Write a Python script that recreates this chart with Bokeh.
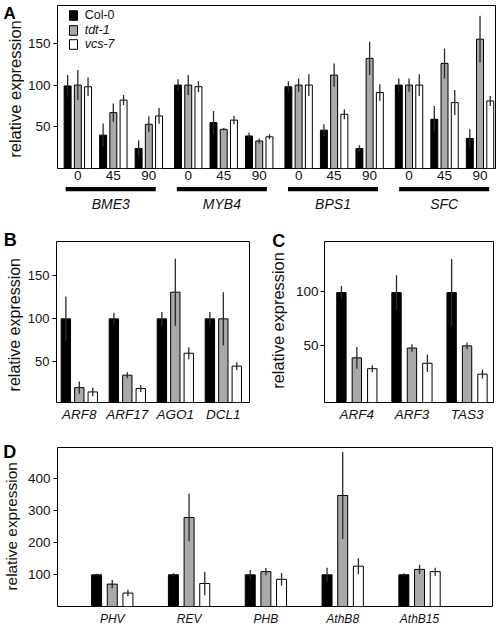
import numpy as np
from bokeh.plotting import figure
from bokeh.models import Range1d, FixedTicker, Legend, LegendItem
from bokeh.layouts import column, row
from bokeh.embed import file_html
from bokeh.resources import INLINE
from bokeh.core.properties import value

FONT = "Liberation Sans"
strains = ["Col-0", "tdt-1", "vcs-7"]
colors = ["#000000", "#a9a9a9", "#ffffff"]
ylabel_text = "relative expression"

# ---------------- Panel A data ----------------
a_genes = ["BME3", "MYB4", "BPS1", "SFC"]
a_times = ["0", "45", "90"]
a_col0 = [99, 40, 24, 100, 55, 39, 98, 46, 24, 100, 59, 36]
a_col0_err = [13, 14, 10, 7, 14, 4, 6.5, 7, 4, 8, 16, 11]
a_tdt1 = [100, 67, 53, 100, 47, 33, 100, 112, 132, 100, 126, 155]
a_tdt1_err = [18, 11, 9.5, 12, 1.5, 3, 8, 14, 20, 8, 18, 28]
a_vcs7 = [98, 82, 63, 98, 58, 38, 100, 65, 91, 100, 79, 81]
a_vcs7_err = [11, 6, 9.5, 6.5, 5, 3, 13, 6, 10, 13, 15, 6]
a_yticks = [50, 100, 150]

# ---------------- Panel B data ----------------
b_genes = ["ARF8", "ARF17", "AGO1", "DCL1"]
b_col0 = [100, 100, 100, 100]
b_col0_err = [26, 7, 8, 8]
b_tdt1 = [20, 34.5, 131, 100]
b_tdt1_err = [7, 3.5, 39, 31]
b_vcs7 = [15, 19, 60, 45]
b_vcs7_err = [5, 4, 7, 4.5]
b_yticks = [50, 100, 150]

# ---------------- Panel C data ----------------
c_genes = ["ARF4", "ARF3", "TAS3"]
c_col0 = [99, 99, 99]
c_col0_err = [6, 16, 31]
c_tdt1 = [39, 48, 50]
c_tdt1_err = [10, 3.5, 3.2]
c_vcs7 = [29, 34, 24]
c_vcs7_err = [3.2, 8, 4]
c_yticks = [50, 100]

# ---------------- Panel D data ----------------
d_genes = ["PHV", "REV", "PHB", "AthB8", "AthB15"]
d_col0 = [99, 99, 99, 99, 99]
d_col0_err = [3, 5, 15, 22, 5]
d_tdt1 = [70, 278, 109, 347, 116]
d_tdt1_err = [13, 75, 11, 136, 14.5]
d_vcs7 = [42, 72, 85, 126, 109]
d_vcs7_err = [10, 37, 20, 25, 12.5]
d_yticks = [100, 200, 300, 400]


def make_fig(width, height, xr, yr, left, right, top, bottom):
    p = figure(width=width, height=height, x_range=xr, y_range=yr,
               output_backend="svg", toolbar_location=None,
               min_border_left=left, min_border_right=right,
               min_border_top=top, min_border_bottom=bottom)
    p.frame_align = False
    p.outline_line_color = "black"
    p.outline_line_width = 1
    p.grid.visible = False
    p.background_fill_color = "white"
    p.border_fill_color = "white"
    return p


def style_axes(p, yticks, ytick_size, ystand, xtick_size, xstand, xticks, xlabels, x_italic=True):
    ax = p.yaxis[0]
    ax.ticker = FixedTicker(ticks=yticks)
    ax.major_tick_out = 4
    ax.major_tick_in = 0
    ax.minor_tick_out = 0
    ax.minor_tick_in = 0
    ax.major_tick_line_color = "black"
    ax.axis_line_color = None
    ax.major_label_text_font = FONT
    ax.major_label_text_font_size = ytick_size
    ax.major_label_text_color = "#111111"
    ax.major_label_standoff = ystand
    bx = p.xaxis[0]
    bx.ticker = FixedTicker(ticks=list(xticks))
    bx.major_label_overrides = {float(k): v for k, v in zip(xticks, xlabels)}
    bx.major_tick_out = 0
    bx.major_tick_in = 0
    bx.minor_tick_out = 0
    bx.minor_tick_in = 0
    bx.axis_line_color = None
    bx.major_label_text_font = FONT
    bx.major_label_text_font_size = xtick_size
    bx.major_label_text_font_style = "italic" if x_italic else "normal"
    bx.major_label_text_color = "#111111"
    bx.major_label_standoff = xstand


def draw_bars(p, xs, series, errs, width, offset, bottom):
    rs = []
    xs = np.asarray(xs, dtype=float)
    for i, (vals, ee) in enumerate(zip(series, errs)):
        xi = xs + (i - 1) * offset
        v = np.asarray(vals, dtype=float)
        e = np.asarray(ee, dtype=float)
        r = p.vbar(x=xi, top=v, bottom=bottom, width=width,
                   fill_color=colors[i], line_color="black", line_width=1)
        rs.append(r)
        p.segment(x0=xi, y0=v - e, x1=xi, y1=v + e,
                  line_color="#2a2a2a", line_width=1.3)
    return rs


def strip(width, height, letter, lx, ly, lsize, yx, yy, ysize):
    """Narrow figure on the left of a panel holding the panel letter and y label."""
    s = figure(width=width, height=height, x_range=Range1d(0, width),
               y_range=Range1d(height, 0), output_backend="svg",
               toolbar_location=None, min_border=0,
               x_axis_location=None, y_axis_location=None)
    s.frame_align = False
    s.outline_line_color = None
    s.grid.visible = False
    s.text(x=[lx], y=[ly], text=[letter], text_align="left", text_baseline="top",
           text_font=value(FONT), text_font_style="bold", text_font_size=lsize,
           text_color="black")
    s.text(x=[yx], y=[yy], text=[ylabel_text], angle=np.pi / 2, text_align="center",
           text_baseline="middle", text_font=value(FONT), text_font_size=ysize,
           text_color="#111111")
    return s


# ================= Panel A =================
a_gap = 0.11
a_x = [g * 3 + t + a_gap * g for g in range(len(a_genes)) for t in range(len(a_times))]
a_xlabels = [t for g in a_genes for t in a_times]
a_gene_centers = [np.mean(a_x[g * 3:(g + 1) * 3]) for g in range(len(a_genes))]

pA = make_fig(474, 186, Range1d(-0.573, 11.766), Range1d(0, 195.4), 30, 3, 5, 18)
rsA = draw_bars(pA, a_x, [a_col0, a_tdt1, a_vcs7], [a_col0_err, a_tdt1_err, a_vcs7_err],
                0.196, 0.288, 0)
style_axes(pA, a_yticks, "13.5px", 3, "13.5px", 2, a_x, a_xlabels, x_italic=False)

leg_kw = dict(padding=0, margin=0, spacing=0, label_standoff=7, glyph_width=10,
              glyph_height=12, label_height=14, border_line_color=None,
              background_fill_alpha=0, label_text_font=FONT, label_text_font_size="12.5px",
              label_text_color="#111111")
leg1 = Legend(items=[LegendItem(label=strains[0], renderers=[rsA[0]])],
              location=(10.7, 146), label_text_font_style="normal", **leg_kw)
leg2 = Legend(items=[LegendItem(label=strains[1], renderers=[rsA[1]]),
                     LegendItem(label=strains[2], renderers=[rsA[2]])],
              location=(10.7, 117), label_text_font_style="italic", **leg_kw)
pA.add_layout(leg1)
pA.add_layout(leg2)
sA = strip(24, 186, "A", 3, 3.5, "17px", 14.4, 88.5, "16.5px")

# under-A strip: group bars and gene names
pAu = figure(width=498, height=30, x_range=pA.x_range, y_range=Range1d(0, 30),
             output_backend="svg", toolbar_location=None,
             min_border_left=54, min_border_right=3, min_border_top=0, min_border_bottom=0,
             x_axis_location=None, y_axis_location=None)
pAu.frame_align = False
pAu.outline_line_color = None
pAu.grid.visible = False
gc = np.asarray(a_gene_centers)
pAu.segment(x0=gc - 1.26, x1=gc + 1.26, y0=27.3, y1=27.3, line_width=4.2,
            line_color="black", line_cap="butt")
pAu.text(x=gc, y=13, text=a_genes, text_align="center", text_baseline="middle",
         text_font=value(FONT), text_font_style="italic", text_font_size="14px",
         text_color="#111111")

# ================= Panel B =================
b_x = list(range(len(b_genes)))
pB = make_fig(238, 208, Range1d(-0.475, 3.545), Range1d(2.7, 190), 29, 13, 25, 21)
draw_bars(pB, b_x, [b_col0, b_tdt1, b_vcs7], [b_col0_err, b_tdt1_err, b_vcs7_err],
          0.195, 0.28, 0)
style_axes(pB, b_yticks, "13px", 3, "13.5px", 4, b_x, b_genes)
sB = strip(24, 208, "B", 3.3, 13.9, "18px", 13.5, 108.2, "16px")

# ================= Panel C =================
c_x = list(range(len(c_genes)))
c_ymin = -2.1
pC = make_fig(206, 208, Range1d(-0.587, 2.48), Range1d(c_ymin, 146), 29, 5, 25, 21)
draw_bars(pC, c_x, [c_col0, c_tdt1, c_vcs7], [c_col0_err, c_tdt1_err, c_vcs7_err],
          0.17, 0.28, c_ymin)
style_axes(pC, c_yticks, "13.5px", 2, "13.5px", 4, c_x, c_genes)
sC = strip(30, 208, "C", 9.7, 14.9, "18px", 15.7, 104, "16.4px")

# ================= Panel D =================
d_x = list(range(len(d_genes)))
pD = make_fig(474, 204, Range1d(-0.713, 4.95), Range1d(0, 497), 30, 6, 23, 19)
draw_bars(pD, d_x, [d_col0, d_tdt1, d_vcs7], [d_col0_err, d_tdt1_err, d_vcs7_err],
          0.13, 0.204, 0)
style_axes(pD, d_yticks, "13.5px", 3, "12px", 5, d_x, d_genes)
sD = strip(24, 204, "D", 2.7, 17.6, "18px", 11, 101.9, "15.4px")

layout = column(row(sA, pA), pAu, row(sB, pB, sC, pC), row(sD, pD))
open("out.html", "w").write(file_html(layout, INLINE))
